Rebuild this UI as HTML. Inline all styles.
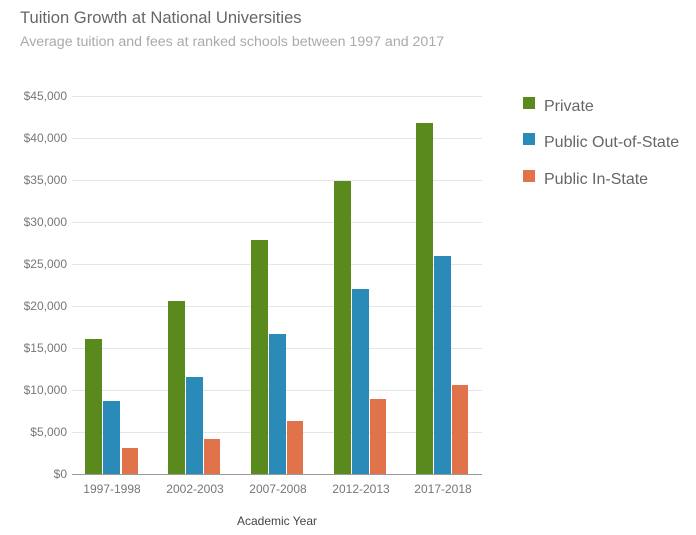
<!DOCTYPE html>
<html><head><style>body{margin:0;background:#fff}</style></head><body>
<svg width="696" height="530" xmlns="http://www.w3.org/2000/svg" font-family="Liberation Sans, sans-serif">
<rect width="696" height="530" fill="#fff"/>
<text x="20" y="23" font-size="16.6" fill="#666">Tuition Growth at National Universities</text>
<text x="20" y="46" font-size="14.2" fill="#aaa">Average tuition and fees at ranked schools between 1997 and 2017</text>
<g stroke="#e6e6e6" stroke-width="1">
<line x1="72" x2="482" y1="96.5" y2="96.5"/><line x1="72" x2="482" y1="138.5" y2="138.5"/><line x1="72" x2="482" y1="180.5" y2="180.5"/><line x1="72" x2="482" y1="222.5" y2="222.5"/><line x1="72" x2="482" y1="264.5" y2="264.5"/><line x1="72" x2="482" y1="306.5" y2="306.5"/><line x1="72" x2="482" y1="348.5" y2="348.5"/><line x1="72" x2="482" y1="390.5" y2="390.5"/><line x1="72" x2="482" y1="432.5" y2="432.5"/>
</g>
<g font-size="12" fill="#777" text-anchor="end">
<text x="67" y="100">$45,000</text><text x="67" y="142">$40,000</text><text x="67" y="184">$35,000</text><text x="67" y="226">$30,000</text><text x="67" y="268">$25,000</text><text x="67" y="310">$20,000</text><text x="67" y="352">$15,000</text><text x="67" y="394">$10,000</text><text x="67" y="436">$5,000</text><text x="67" y="478">$0</text>
</g>
<g fill="#5a8a1e"><rect x="85" y="339" width="17" height="135"/><rect x="168" y="301" width="17" height="173"/><rect x="251" y="240" width="17" height="234"/><rect x="334" y="181" width="17" height="293"/><rect x="416" y="123" width="17" height="351"/></g>
<g fill="#2a8ab8"><rect x="103" y="401" width="17" height="73"/><rect x="186" y="377" width="17" height="97"/><rect x="269" y="334" width="17" height="140"/><rect x="352" y="289" width="17" height="185"/><rect x="434" y="256" width="17" height="218"/></g>
<g fill="#e0734a"><rect x="122" y="448" width="16" height="26"/><rect x="204" y="439" width="16" height="35"/><rect x="287" y="421" width="16" height="53"/><rect x="370" y="399" width="16" height="75"/><rect x="452" y="385" width="16" height="89"/></g>
<line x1="72" x2="482" y1="474.5" y2="474.5" stroke="#999"/>
<g font-size="12" fill="#777" text-anchor="middle">
<text x="112" y="493">1997-1998</text><text x="195" y="493">2002-2003</text><text x="278" y="493">2007-2008</text><text x="361" y="493">2012-2013</text><text x="443" y="493">2017-2018</text>
</g>
<text x="277" y="525" font-size="12" fill="#444" text-anchor="middle">Academic Year</text>
<rect x="523" y="97" width="12" height="12" fill="#5a8a1e"/>
<rect x="523" y="133" width="12" height="12" fill="#2a8ab8"/>
<rect x="523" y="170" width="12" height="12" fill="#e0734a"/>
<g font-size="16" fill="#666">
<text x="544" y="111">Private</text><text x="544" y="147">Public Out-of-State</text><text x="544" y="184">Public In-State</text>
</g>
</svg>
</body></html>
